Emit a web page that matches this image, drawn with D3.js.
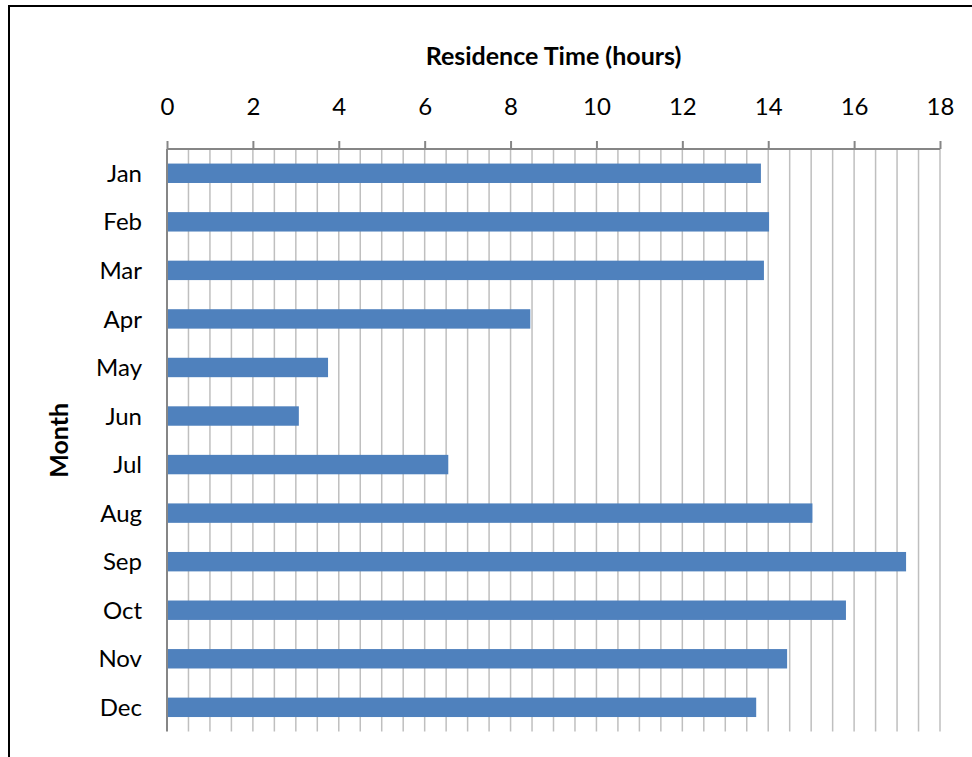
<!DOCTYPE html>
<html><head><meta charset="utf-8">
<script src="https://cdn.jsdelivr.net/npm/d3@7"></script>
<style>body{margin:0;background:#fff}svg{display:block}</style>
</head><body>
<script>
const months = ["Jan","Feb","Mar","Apr","May","Jun","Jul","Aug","Sep","Oct","Nov","Dec"];
const residenceHours = [13.83,14.02,13.90,8.46,3.75,3.07,6.55,15.03,17.21,15.81,14.44,13.72];
const xTicks = [0,2,4,6,8,10,12,14,16,18];
const xTitle = "Residence Time (hours)";
const yTitle = "Month";

const W=972,H=757;
const svg=d3.select("body").append("svg").attr("width",W).attr("height",H);
const font="Lato, 'Open Sans', sans-serif";
// outer border
svg.append("rect").attr("x",9).attr("y",6).attr("width",W+20).attr("height",H+20)
  .attr("fill","none").attr("stroke","#000").attr("stroke-width",2);

const pL=167,pR=940,pT=149,pB=731.6;
const x=d3.scaleLinear().domain([0,18]).range([pL,pR]);
const y=d3.scaleBand().domain(months).range([pT,pB]).paddingInner(0.6).paddingOuter(0.3);

// minor gridlines every 0.5
const grid=d3.range(0.5,18.01,0.5);
svg.append("g").selectAll("line").data(grid).join("line")
  .attr("x1",d=>x(d)).attr("x2",d=>x(d)).attr("y1",pT).attr("y2",pB)
  .attr("stroke","#bfbfbf").attr("stroke-width",1.5);

// bars
svg.append("g").selectAll("rect").data(months).join("rect")
  .attr("x",x(0)).attr("y",d=>y(d)).attr("height",y.bandwidth())
  .attr("width",(d,i)=>x(residenceHours[i])-x(0))
  .attr("fill","#4f81bd");

// top axis
const ax=svg.append("g").attr("transform",`translate(0,${pT})`)
  .call(d3.axisTop(x).tickValues(xTicks).tickSize(8).tickPadding(26).tickFormat(d3.format("d")));
ax.select(".domain").attr("stroke","#868686").attr("stroke-width",2).attr("d",`M${pL},0H${pR}`);
ax.selectAll(".tick line").attr("stroke","#868686").attr("stroke-width",2);
ax.selectAll(".tick text").attr("font-family",font).attr("font-size",24).attr("fill","#000");

// left axis line
svg.append("line").attr("x1",pL).attr("x2",pL).attr("y1",pT).attr("y2",pB)
  .attr("stroke","#868686").attr("stroke-width",2);

// category labels
svg.append("g").selectAll("text").data(months).join("text")
  .attr("x",142).attr("y",d=>y(d)+y.bandwidth()/2).attr("dy","0.36em")
  .attr("text-anchor","end").attr("font-family",font).attr("font-size",24).attr("fill","#000")
  .text(d=>d);

// titles
svg.append("text").attr("x",(pL+pR)/2).attr("y",65).attr("text-anchor","middle")
  .attr("font-family",font).attr("font-weight","bold").attr("font-size",25).text(xTitle);
svg.append("text").attr("transform",`translate(68,${(pT+pB)/2}) rotate(-90)`)
  .attr("text-anchor","middle").attr("font-family",font).attr("font-weight","bold")
  .attr("font-size",25).text(yTitle);
</script>
</body></html>
